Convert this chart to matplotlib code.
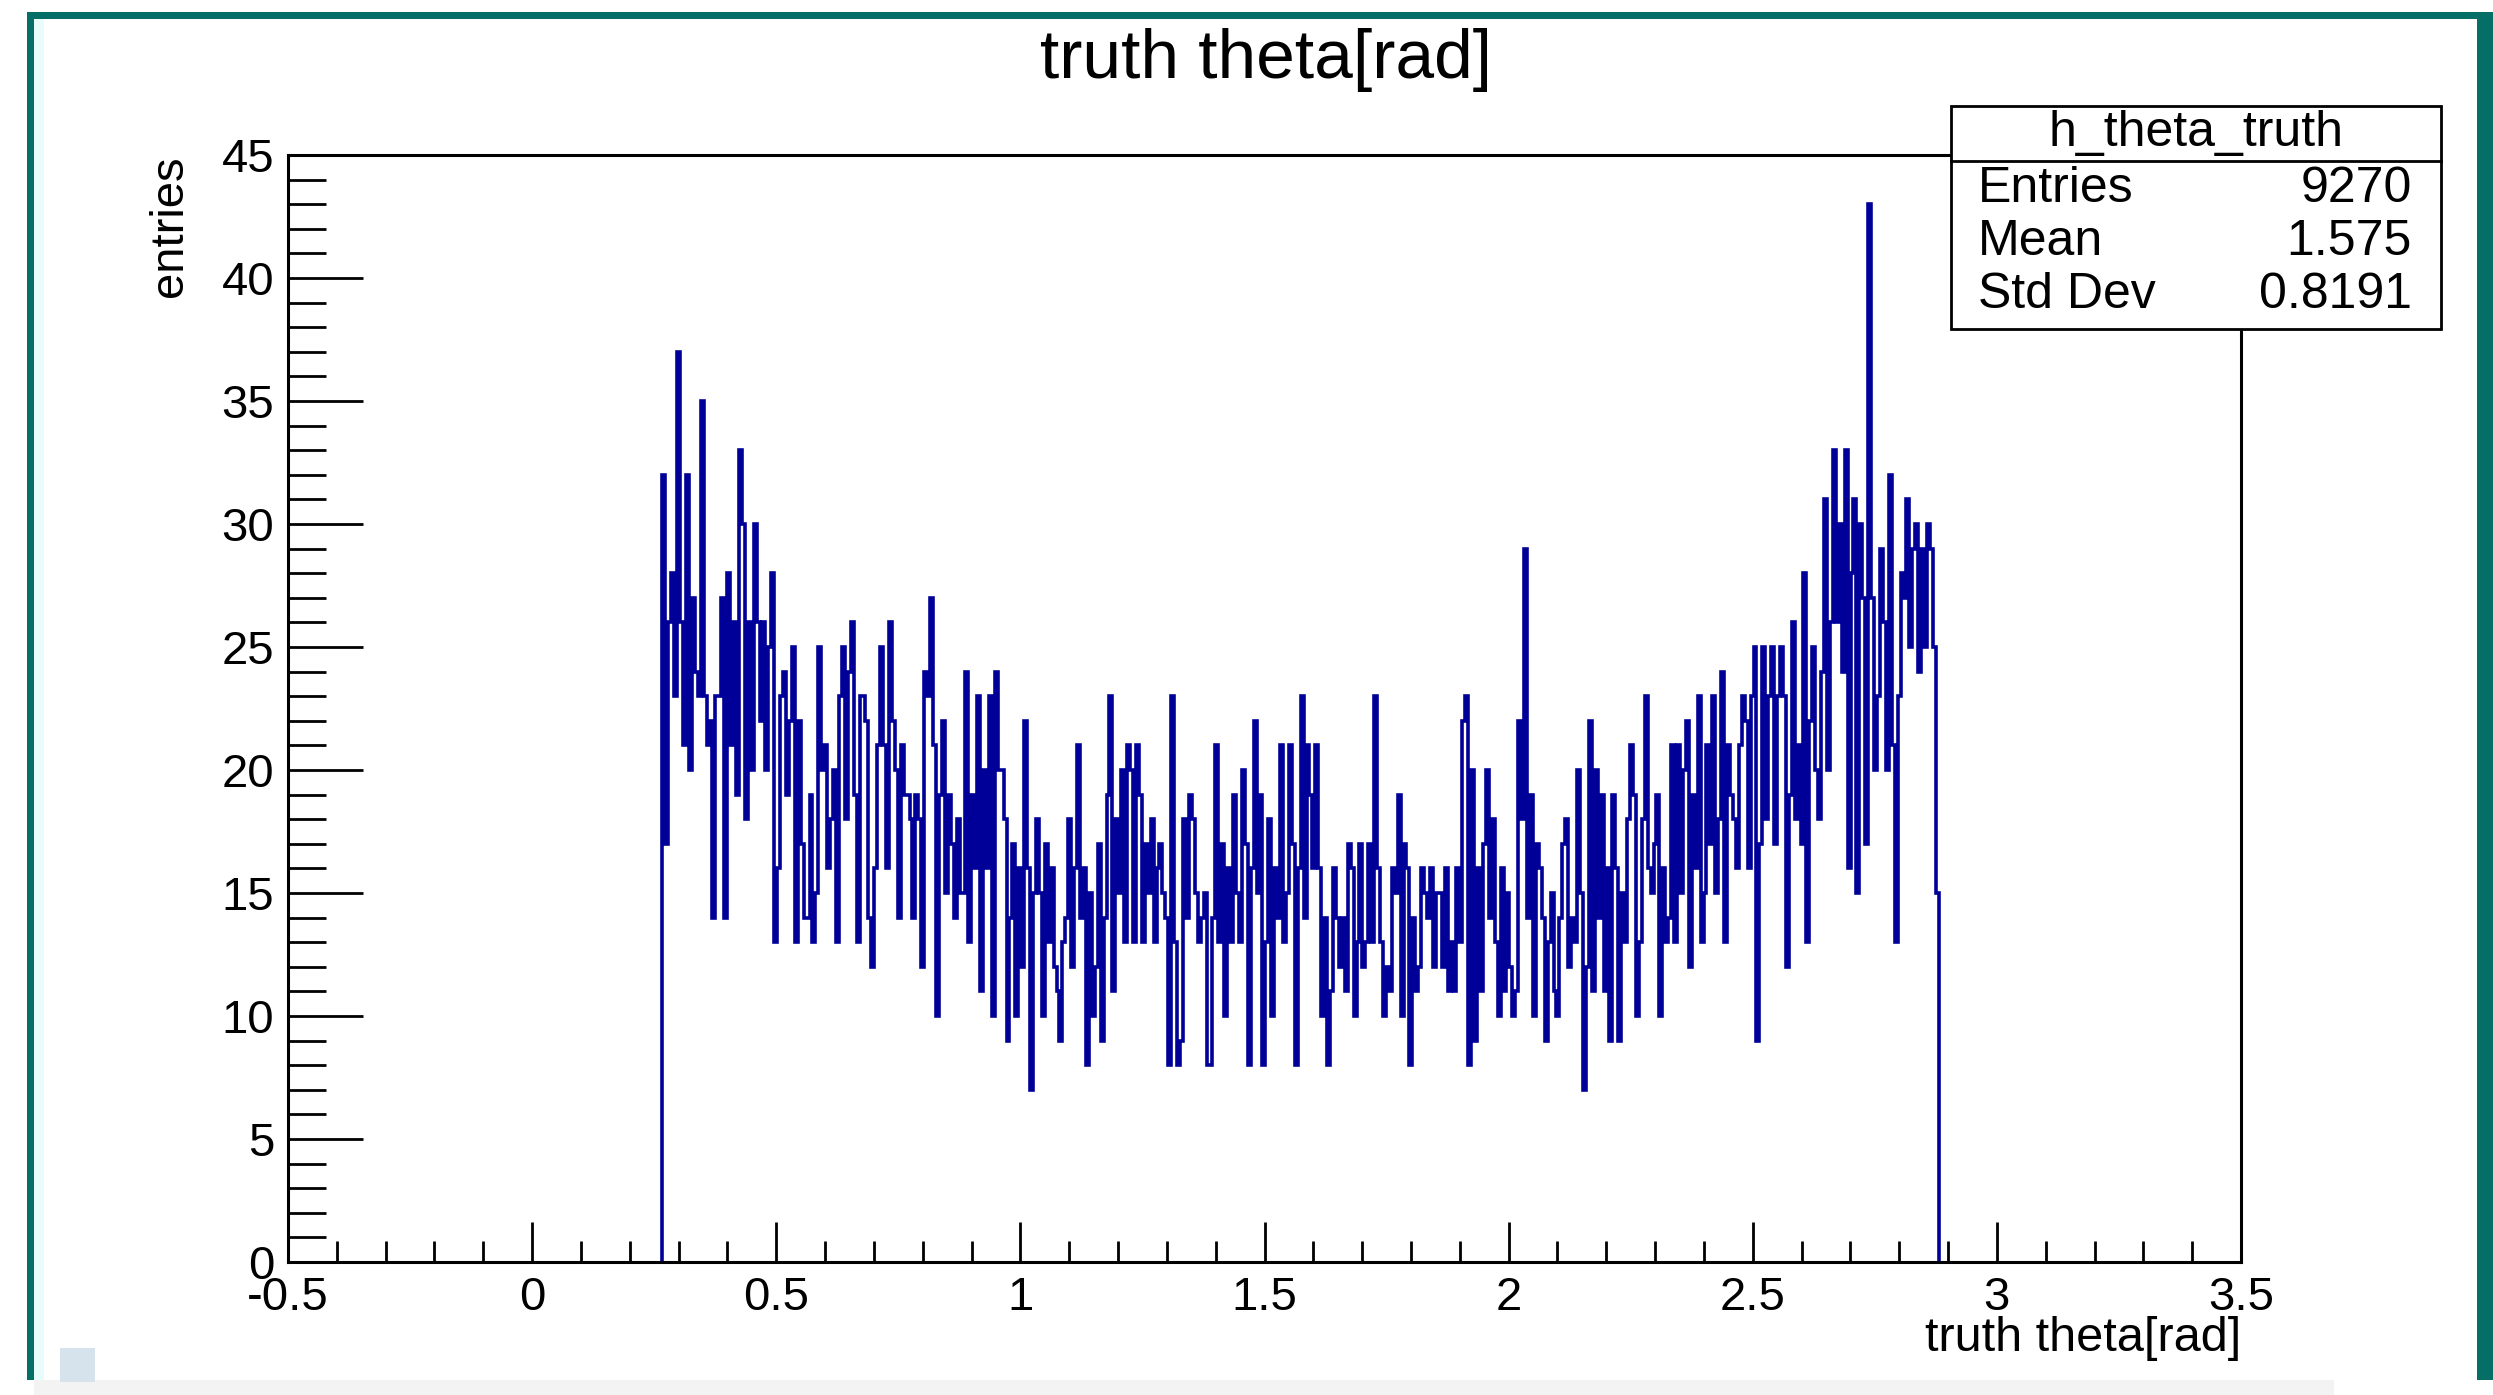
import numpy as np
import matplotlib.pyplot as plt
from matplotlib.patches import Rectangle
from matplotlib.ticker import MultipleLocator, FuncFormatter

# bin contents, left to right (theta ~0.27 -> ~2.88)
counts_1 = [32, 17, 26, 28, 23, 37, 26, 21, 32, 20, 27, 24, 23, 35, 23, 21, 22, 14, 23, 23,
            27, 14, 28, 21, 26, 19, 33, 30, 18, 26, 20, 30, 26, 22, 26, 20, 25, 28, 13, 16,
            23, 24, 19, 22, 25, 13, 22, 17, 14, 14, 19]
counts_2 = [13, 15, 25, 20, 21, 16, 18, 20, 13, 23, 25, 18, 24, 26, 19, 13, 23, 23, 22, 14,
            12, 16, 21, 25, 21, 16, 26, 22, 20, 14, 21, 19, 19, 18, 14, 19, 18, 12, 24, 23,
            27, 21, 10, 19, 22, 15, 19, 17, 14, 18, 15]
counts_3 = [15, 24, 13, 19, 16, 23, 11, 20, 16, 23, 10, 24, 20, 20, 18, 9, 14, 17, 10, 16,
            12, 22, 16, 7, 15, 18, 15, 10, 17, 13, 16, 12, 11, 9, 13, 14, 18, 12, 16, 21,
            14, 16, 8, 15, 10, 12, 17, 9, 14, 19, 23, 11, 18, 15, 20, 13, 21]
counts_4 = [20, 13, 21, 19, 13, 17, 15, 18, 13, 16, 17, 15, 14, 8, 23, 13, 8, 9, 18, 14,
            19, 18, 15, 13, 14, 15, 8, 8, 14, 21, 13, 17, 10, 16, 13, 19, 15, 13, 20, 17,
            8, 16, 22, 15, 19, 8, 13, 18, 10, 16, 14, 21, 13]
counts_5 = [15, 21, 17, 8, 16, 23, 14, 21, 19, 16, 21, 16, 10, 14, 8, 11, 16, 14, 12, 14,
            11, 17, 16, 10, 13, 17, 12, 13, 17, 13, 23, 16, 13, 10, 12, 11, 16, 15, 19, 10,
            17, 16, 8, 14, 11, 12, 16, 15, 14, 16, 12, 15, 15, 12, 16, 11, 13]
counts_6 = [11, 16, 13, 22, 23, 8, 20, 9, 16, 11, 17, 20, 14, 18, 13, 10, 16, 11, 15, 12,
            10, 11, 22, 18, 29, 14, 19, 10, 17, 16, 14, 9, 13, 15, 11, 10, 14, 17, 18, 12,
            14, 13, 20, 15, 7, 12, 22, 11, 20, 14, 19, 11, 16, 9]
counts_7 = [19, 16, 9, 15, 13, 18, 21, 19, 10, 13, 18, 23, 16, 15, 17, 19, 10, 16, 13, 14,
            21, 13, 21, 15, 20, 22, 12, 19, 16, 23, 13, 15, 21, 17, 23, 15, 18, 24, 13, 21,
            19, 18, 16, 21, 23, 22, 16, 23, 25, 9, 17, 25, 18, 23]
counts_8 = [25, 17, 23, 25, 23, 12, 19, 26, 18, 21, 17, 28, 13, 22, 25, 20, 18, 24, 31, 20,
            26, 33, 26, 30, 24, 33, 16, 28, 31, 15, 30, 27, 17, 43, 27, 20, 23, 29, 26, 20,
            32, 21, 13, 23, 28, 27, 31, 25, 29, 30, 24, 29, 25, 30, 29, 25, 15]

theta_lo = 0.267
theta_hi = 2.881
stat_rows = [("Entries", "9270"), ("Mean", "1.575"), ("Std Dev", "0.8191")]

counts = np.array(counts_1 + counts_2 + counts_3 + counts_4 + counts_5 + counts_6 + counts_7 + counts_8)
edges = np.linspace(theta_lo, theta_hi, len(counts) + 1)

plt.rcParams['font.family'] = ['Liberation Sans', 'DejaVu Sans']
W, H = 2493, 1395
fig = plt.figure(figsize=(W / 100, H / 100), dpi=100)

# screenshot frame
teal = '#056e66'
fig.add_artist(Rectangle((27 / W, 1 - 1380 / H), 7 / W, 1364 / H, transform=fig.transFigure, color=teal, lw=0))
fig.add_artist(Rectangle((34 / W, 1 - 1380 / H), 10 / W, 1361 / H, transform=fig.transFigure, color='#e9fcfc', lw=0))
fig.add_artist(Rectangle((27 / W, 1 - 19 / H), (W - 27) / W, 7 / H, transform=fig.transFigure, color=teal, lw=0))
fig.add_artist(Rectangle((2477 / W, 1 - 1380 / H), 16 / W, 1361 / H, transform=fig.transFigure, color=teal, lw=0))
fig.add_artist(Rectangle((34 / W, 0), 2300 / W, 15 / H, transform=fig.transFigure, color='#f3f3f3', lw=0))
fig.add_artist(Rectangle((60 / W, 1 - 1382 / H), 35 / W, 34 / H, transform=fig.transFigure, color='#d6e2ec', lw=0))

ax = fig.add_axes([288 / W, 1 - 1262 / H, (2241 - 288) / W, (1262 - 155) / H])
ax.stairs(counts, edges, baseline=0, color='#000099', lw=2.6)

ax.set_xlim(-0.5, 3.5)
ax.set_ylim(0, 45)
ax.xaxis.set_major_locator(MultipleLocator(0.5))
ax.xaxis.set_minor_locator(MultipleLocator(0.1))
ax.yaxis.set_major_locator(MultipleLocator(5))
ax.yaxis.set_minor_locator(MultipleLocator(1))
ax.xaxis.set_major_formatter(FuncFormatter(lambda v, p: f'{v:g}'))
ax.tick_params(axis='both', which='both', direction='in', top=False, right=False, width=2.0)
ax.tick_params(axis='y', which='major', length=54, labelsize=34, pad=10)
ax.tick_params(axis='y', which='minor', length=27)
ax.tick_params(axis='x', which='major', length=29, labelsize=34, pad=10)
ax.tick_params(axis='x', which='minor', length=15)
for s in ax.spines.values():
    s.set_linewidth(2.2)

ax.set_xlabel('truth theta[rad]', fontsize=35, loc='right')
ax.xaxis.set_label_coords(1.0, -0.049)
ax.set_ylabel('entries', fontsize=34, loc='top')
ax.yaxis.set_label_coords(-0.049, 1.0)

fig.text(1266 / W, 1 - 60 / H, 'truth theta[rad]', fontsize=50, ha='center', va='center')

# stats box
bx0, bx1, by0, by1 = 1951, 2441, 106, 329
fig.add_artist(Rectangle((bx0 / W, 1 - by1 / H), (bx1 - bx0) / W, (by1 - by0) / H,
                         transform=fig.transFigure, facecolor='white', edgecolor='black', lw=2.0, zorder=5))
fig.add_artist(plt.Line2D([bx0 / W, bx1 / W], [1 - 161 / H, 1 - 161 / H], transform=fig.transFigure,
                          color='black', lw=2.0, zorder=6))
fig.text(2196 / W, 1 - 133 / H, 'h_theta_truth', fontsize=36, ha='center', va='center', zorder=7)
for i, (name, val) in enumerate(stat_rows):
    yy = 1 - (189 + 53 * i) / H
    fig.text(1978 / W, yy, name, fontsize=36, ha='left', va='center', zorder=7)
    fig.text(2412 / W, yy, val, fontsize=36, ha='right', va='center', zorder=7)

fig.savefig('out.png', dpi=100, facecolor='white')
